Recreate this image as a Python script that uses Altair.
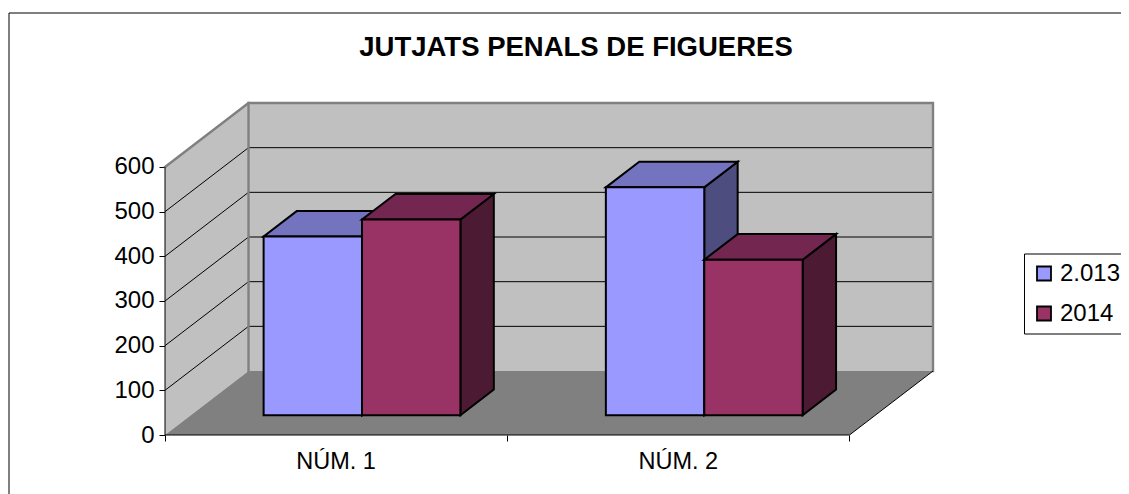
import altair as alt
import pandas as pd

# ---- values ----
categories = ["NÚM. 1", "NÚM. 2"]
series = ["2.013", "2014"]
values_2013 = [400, 510]
values_2014 = [438, 348]
y_ticks = [0, 100, 200, 300, 400, 500, 600]
x_ticks = [0, 1, 2]
grid_values = [100, 200, 300, 400, 500]
front_colors = ["#9999FF", "#993366"]
top_colors = ["#7373BF", "#732650"]
side_colors = ["#4D4D80", "#4D1A33"]

# oblique projection of the 3-D box, in axis units
DX = 0.244      # category units for full depth
DY = 143.2      # value units for full depth
Y_MAX = 600
BAR_GAP = 0.2125
BAR_W = 0.2875
D0, D1 = 0.31, 0.71
FONT = "Liberation Sans"
FS = 24
BAR_STROKE = 2

x_scale = alt.Scale(domain=[0, 2 + DX], nice=False, zero=False)
y_scale = alt.Scale(domain=[0, Y_MAX + DY], nice=False, zero=False)
x_axis = alt.Axis(values=x_ticks, labels=False, domain=False, grid=False,
                  tickSize=6, tickColor="black", title=None)
y_axis = alt.Axis(values=y_ticks, domain=False, grid=False, tickSize=6, tickColor="black",
                  labelFont=FONT, labelFontSize=FS, labelColor="black",
                  labelPadding=5, format="d", title=None)
X = alt.X("x:Q", scale=x_scale, axis=x_axis, title=None)
Y = alt.Y("y:Q", scale=y_scale, axis=y_axis, title=None)

n = len(categories)
all_vals = [values_2013, values_2014]

front, top, side = [], [], []
for s, vals in enumerate(all_vals):
    for c, v in enumerate(vals):
        l = c + BAR_GAP + s * BAR_W
        r = l + BAR_W
        front.append(dict(series=series[s], x=l + D0 * DX, x2=r + D0 * DX, y=v + D0 * DY, y2=D0 * DY))
        for d in (D0, D1):
            top.append(dict(series=series[s], bar=c, y=v + d * DY, x=l + d * DX, x2=r + d * DX))
            side.append(dict(series=series[s], bar=c, x=r + d * DX, y=v + d * DY, y2=d * DY))
front, top, side = pd.DataFrame(front), pd.DataFrame(top), pd.DataFrame(side)

# walls and floor
left_wall = pd.DataFrame([dict(x=0, y=Y_MAX, y2=0), dict(x=DX, y=Y_MAX + DY, y2=DY)])
back_wall = pd.DataFrame([dict(x=DX, x2=n + DX, y=Y_MAX + DY, y2=DY)])
floor = pd.DataFrame([dict(y=0, x=0, x2=n), dict(y=DY, x=DX, x2=n + DX)])

grid = pd.DataFrame([
    dict(g=g, o=i, x=x, y=y)
    for g in grid_values
    for i, (x, y) in enumerate([(0, g), (DX, g + DY), (n + DX, g + DY)])
])
edges = pd.DataFrame([
    dict(g="top", o=0, x=0, y=Y_MAX), dict(g="top", o=1, x=DX, y=Y_MAX + DY),
    dict(g="top", o=2, x=n + DX, y=Y_MAX + DY), dict(g="top", o=3, x=n + DX, y=DY),
    dict(g="back", o=0, x=DX, y=Y_MAX + DY), dict(g="back", o=1, x=DX, y=DY),
])
black_edges = pd.DataFrame([
    dict(g="axis", o=0, x=0, y=Y_MAX), dict(g="axis", o=1, x=0, y=0),
    dict(g="axis", o=2, x=n, y=0), dict(g="axis", o=3, x=n + DX, y=DY),
])
cat_labels = pd.DataFrame([dict(x=i + 0.5, y=0, label=c) for i, c in enumerate(categories)])

color_scale = alt.Scale(domain=series, range=front_colors)

layers = [
    alt.Chart(left_wall).mark_area(orient="vertical", color="#C0C0C0").encode(x=X, y=Y, y2="y2:Q"),
    alt.Chart(back_wall).mark_rect(color="#C0C0C0").encode(x=X, x2="x2:Q", y=Y, y2="y2:Q"),
    alt.Chart(floor).mark_area(orient="horizontal", color="#808080").encode(y=Y, x=X, x2="x2:Q"),
    alt.Chart(grid).mark_line(color="black", strokeWidth=1).encode(x=X, y=Y, detail="g:N", order="o:Q"),
    alt.Chart(edges).mark_line(color="#808080", strokeWidth=2.4, strokeCap="square").encode(
        x=X, y=Y, detail="g:N", order="o:Q"),
    alt.Chart(black_edges).mark_line(color="black", strokeWidth=1).encode(
        x=X, y=Y, detail="g:N", order="o:Q"),
]

for s, name in enumerate(series):
    layers += [
        alt.Chart(side[side.series == name]).mark_area(
            orient="vertical", color=side_colors[s], stroke="black", strokeWidth=BAR_STROKE
        ).encode(x=X, y=Y, y2="y2:Q", detail="bar:N"),
        alt.Chart(top[top.series == name]).mark_area(
            orient="horizontal", color=top_colors[s], stroke="black", strokeWidth=BAR_STROKE
        ).encode(y=Y, x=X, x2="x2:Q", detail="bar:N"),
        alt.Chart(front[front.series == name]).mark_rect(stroke="black", strokeWidth=BAR_STROKE).encode(
            x=X, x2="x2:Q", y=Y, y2="y2:Q",
            color=alt.Color("series:N", scale=color_scale,
                            legend=alt.Legend(
                                title=None, orient="none", legendX=859, legendY=150.5,
                                symbolType="square", symbolSize=196, symbolStrokeWidth=1.8,
                                symbolStrokeColor="black", symbolOpacity=1,
                                labelFont=FONT, labelFontSize=FS, labelColor="black",
                                labelOffset=4, rowPadding=16, padding=8,
                                strokeColor="black", fillColor="white", labelLimit=200)),
        ),
    ]

layers.append(
    alt.Chart(cat_labels).mark_text(font=FONT, fontSize=23.5, color="black", dy=27, baseline="middle").encode(
        x=X, y=Y, text="label:N")
)
# outer chart frame (runs off the photographed page on the right and bottom)
layers.append(alt.Chart(pd.DataFrame([{"f": 0}])).mark_rule(color="black", strokeWidth=1).encode(
    x=alt.value(-156), x2=alt.value(970), y=alt.value(-90)))
layers.append(alt.Chart(pd.DataFrame([{"f": 0}])).mark_rule(color="black", strokeWidth=1).encode(
    x=alt.value(-156), y=alt.value(-90), y2=alt.value(400)))

chart = alt.layer(*layers).properties(
    width=768, height=332,
    padding={"left": 157, "top": 95, "right": 188, "bottom": 59},
    autosize=alt.AutoSizeParams(type="none"),
    title=alt.TitleParams("JUTJATS PENALS DE FIGUERES", font=FONT, fontSize=27.5, fontWeight="bold",
                          color="black", anchor="middle", dx=27, offset=-49),
).configure_view(stroke=None)

chart.save("out.html", embed_options={"renderer": "svg", "actions": False})
